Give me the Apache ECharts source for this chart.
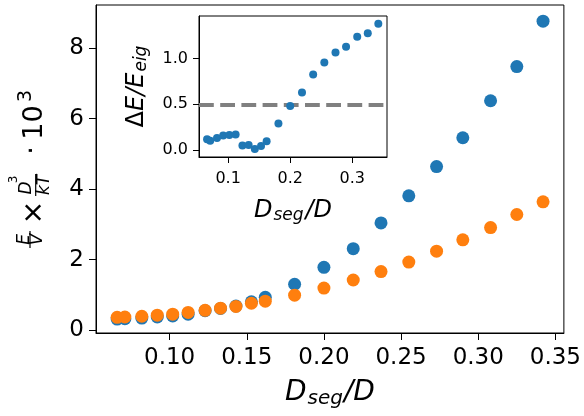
<!DOCTYPE html>
<html>
<head>
<meta charset="utf-8">
<script src="https://cdn.jsdelivr.net/npm/echarts@6/dist/echarts.min.js"></script>
<style>
    html, body { margin: 0; padding: 0; background: #fff; }
    #chart { width: 584px; height: 416px; }
</style>
</head>
<body>
<div id="chart"></div>
<script>
// D_seg / D for every point (shared by main plot and inset)
var segRatio = [0.066, 0.071, 0.082, 0.092, 0.102, 0.112, 0.123, 0.133, 0.143, 0.153, 0.162,
    0.181, 0.200, 0.219, 0.237, 0.255, 0.273, 0.290, 0.308, 0.325, 0.342];
// E/V * D^3/kT * 10^3
var energyBlue = [0.31, 0.32, 0.34, 0.37, 0.40, 0.45, 0.55, 0.61, 0.68, 0.80, 0.93,
    1.30, 1.78, 2.31, 3.04, 3.81, 4.64, 5.46, 6.51, 7.48, 8.77];
var energyOrange = [0.36, 0.37, 0.39, 0.42, 0.45, 0.50, 0.56, 0.62, 0.67, 0.76, 0.82,
    0.99, 1.19, 1.42, 1.66, 1.93, 2.24, 2.56, 2.91, 3.28, 3.64];
// inset: dE / E_eig
var relDiff = [0.117, 0.100, 0.130, 0.157, 0.164, 0.170, 0.048, 0.055, 0.011, 0.044, 0.095,
    0.290, 0.480, 0.630, 0.825, 0.956, 1.066, 1.130, 1.240, 1.277, 1.380];
var threshold = 0.5;

var mainXTicks = [0.10, 0.15, 0.20, 0.25, 0.30, 0.35];
var mainYTicks = [0, 2, 4, 6, 8];
var insetXTicks = [0.1, 0.2, 0.3];
var insetYTicks = [0.0, 0.5, 1.0];

var FONT = 'DejaVu Sans';

function zip(xs, ys) {
    return xs.map(function (x, i) { return [x, ys[i]]; });
}

function valueAxis(grid, min, max, ticks, digits, size, margin, tickLen) {
    return {
        type: 'value',
        gridIndex: grid,
        min: min,
        max: max,
        splitLine: { show: false },
        axisLine: { show: true, onZero: false, lineStyle: { color: '#000', width: 1 } },
        axisTick: { show: true, inside: false, length: tickLen, customValues: ticks,
            lineStyle: { color: '#000', width: 1 } },
        axisLabel: {
            customValues: ticks,
            margin: margin,
            color: '#000',
            fontFamily: FONT,
            fontSize: size,
            formatter: function (v) { return v.toFixed(digits); }
        }
    };
}

var chart = echarts.init(document.getElementById('chart'));

var xMain = valueAxis(0, 0.0523, 0.3555, mainXTicks, 2, 23, 14, 7);
xMain.name = '{i|D}{s|seg}{i|/D}';
xMain.nameLocation = 'middle';
xMain.nameGap = 44;
xMain.nameTextStyle = {
    rich: {
        i: { fontFamily: FONT, fontStyle: 'italic', fontSize: 28, color: '#000' },
        s: { fontFamily: FONT, fontStyle: 'italic', fontSize: 20, color: '#000', padding: [12, 1, 0, 1] }
    }
};
var yMain = valueAxis(0, -0.085, 9.23, mainYTicks, 0, 23, 12, 7);

var xInset = valueAxis(1, 0.053, 0.356, insetXTicks, 1, 16, 14, 6);
xInset.name = '{i|D}{s|seg}{i|/D}';
xInset.nameLocation = 'middle';
xInset.nameGap = 40;
xInset.nameTextStyle = {
    rich: {
        i: { fontFamily: FONT, fontStyle: 'italic', fontSize: 24, color: '#000' },
        s: { fontFamily: FONT, fontStyle: 'italic', fontSize: 17, color: '#000', padding: [10, 2, 0, 1] }
    }
};
var yInset = valueAxis(1, -0.077, 1.466, insetYTicks, 1, 16, 11, 6);
yInset.name = '{u|Δ}{i|E/E}{s|eig}';
yInset.nameLocation = 'middle';
yInset.nameRotate = 90;
yInset.nameGap = 49;
yInset.nameTextStyle = {
    rich: {
        u: { fontFamily: FONT, fontSize: 24, color: '#000' },
        i: { fontFamily: FONT, fontStyle: 'italic', fontSize: 24, color: '#000' },
        s: { fontFamily: FONT, fontStyle: 'italic', fontSize: 17, color: '#000', padding: [10, 0, 0, 1] }
    }
};

// pieces of the y label, laid out along the rotated text line
function piece(text, tx, ty, size, italic) {
    return {
        type: 'text', x: tx, y: ty,
        style: {
            text: text, fontFamily: FONT, fontSize: size,
            fontStyle: italic ? 'italic' : 'normal', fill: '#000',
            align: 'center', verticalAlign: 'middle',
            textAlign: 'center', textVerticalAlign: 'middle'
        }
    };
}
function bar(t1, t2, ty) {
    return { type: 'line', shape: { x1: t1, y1: ty, x2: t2, y2: ty },
        style: { stroke: '#000', lineWidth: 1.2 } };
}

var yLabel = {
    type: 'group',
    x: 43, y: 252,
    rotation: Math.PI / 2,
    children: [
        piece('E', 12.5, -18.5, 17, true),
        bar(4, 21, -13),
        piece('V', 12.5, -5.5, 17, true),
        piece('×', 39.5, -8, 28, false),
        piece('D', 64, -16, 17, true),
        piece('3', 72.5, -29.5, 12, false),
        bar(56, 78, -7.3),
        piece('kT', 67, 1.5, 17, true),
        piece('·', 101.5, -10, 27, false),
        piece('10', 129.5, -8, 27, false),
        piece('3', 156, -16.5, 19, false)
    ]
};

var option = {
    animation: false,
    backgroundColor: '#fff',
    grid: [
        { left: 96, top: 5, width: 470, height: 328, show: true, borderColor: '#000', borderWidth: 1,
          backgroundColor: 'transparent' },
        { left: 199, top: 16, width: 188, height: 141, show: true, borderColor: '#000', borderWidth: 1,
          backgroundColor: '#fff' }
    ],
    xAxis: [xMain, xInset],
    yAxis: [yMain, yInset],
    graphic: [yLabel],
    series: [
        {
            type: 'scatter', xAxisIndex: 0, yAxisIndex: 0,
            data: zip(segRatio, energyBlue),
            symbolSize: 13,
            itemStyle: { color: '#1f77b4', opacity: 1 },
            z: 2
        },
        {
            type: 'scatter', xAxisIndex: 0, yAxisIndex: 0,
            data: zip(segRatio, energyOrange),
            symbolSize: 13,
            itemStyle: { color: '#ff7f0e', opacity: 1 },
            z: 3
        },
        {
            type: 'scatter', xAxisIndex: 1, yAxisIndex: 1,
            data: zip(segRatio, relDiff),
            symbolSize: 8,
            itemStyle: { color: '#1f77b4', opacity: 1 },
            z: 4,
            markLine: {
                z: 1,
                silent: true,
                symbol: ['none', 'none'],
                label: { show: false },
                lineStyle: { color: '#808080', width: 4, type: [14.8, 6.4] },
                data: [{ yAxis: threshold }]
            }
        }
    ]
};

chart.setOption(option);
</script>
</body>
</html>
